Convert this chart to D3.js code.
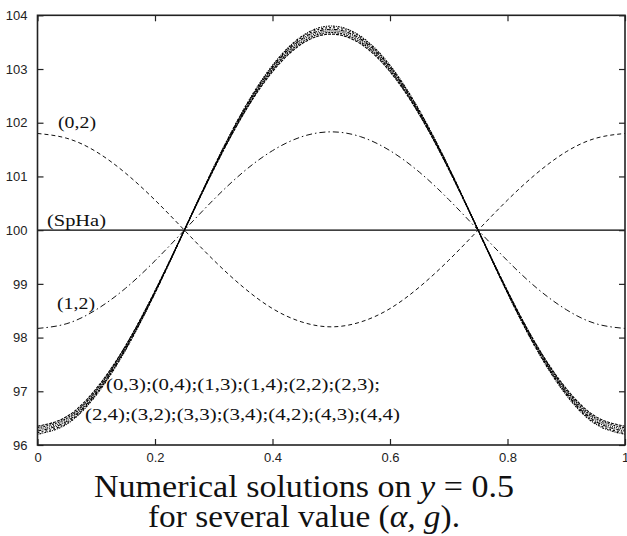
<!DOCTYPE html>
<html lang="en">
<head>
    <meta charset="UTF-8">
    <script src="https://cdn.jsdelivr.net/npm/d3@7"></script>
    <title>Numerical solutions</title>
    <style>
        body { margin: 0; background: #fff; }
        .tick-label { font-family: 'Liberation Sans', Arial, sans-serif; font-size: 13px; fill: #222; }
        .serif { font-family: "Liberation Serif", "DejaVu Serif", serif; fill: #111; }
    </style>
</head>
<body>
    <div id="chart"></div>

    <script>
        // x positions sampled along y = 0.5
        const xs = [0, 0.05, 0.1, 0.15, 0.2, 0.25, 0.3, 0.35, 0.4, 0.45, 0.5,
                    0.55, 0.6, 0.65, 0.7, 0.75, 0.8, 0.85, 0.9, 0.95, 1];

        const spha = [100, 100, 100, 100, 100, 100, 100, 100, 100, 100, 100,
                      100, 100, 100, 100, 100, 100, 100, 100, 100, 100];

        const case02 = [101.80, 101.71, 101.46, 101.06, 100.56, 100.00, 99.44, 98.94, 98.54, 98.29, 98.20,
                        98.29, 98.54, 98.94, 99.44, 100.00, 100.56, 101.06, 101.46, 101.71, 101.80];

        const case12 = [98.17, 98.26, 98.52, 98.92, 99.43, 100.00, 100.57, 101.08, 101.48, 101.74, 101.83,
                        101.74, 101.48, 101.08, 100.57, 100.00, 99.43, 98.92, 98.52, 98.26, 98.17];

        // the bundle (0,3);(0,4);...;(4,4)
        const bundleA = [96.35, 96.53, 97.05, 97.85, 98.87, 100.00, 101.13, 102.15, 102.95, 103.47, 103.65,
                         103.47, 102.95, 102.15, 101.13, 100.00, 98.87, 97.85, 97.05, 96.53, 96.35];
        const bundleB = [96.32, 96.50, 97.02, 97.84, 98.86, 100.00, 101.14, 102.16, 102.98, 103.50, 103.68,
                         103.50, 102.98, 102.16, 101.14, 100.00, 98.86, 97.84, 97.02, 96.50, 96.32];
        const bundleC = [96.29, 96.47, 97.00, 97.82, 98.85, 100.00, 101.15, 102.18, 103.00, 103.53, 103.71,
                         103.53, 103.00, 102.18, 101.15, 100.00, 98.85, 97.82, 97.00, 96.47, 96.29];
        const bundleD = [96.26, 96.44, 96.97, 97.80, 98.84, 100.00, 101.16, 102.20, 103.03, 103.56, 103.74,
                         103.56, 103.03, 102.20, 101.16, 100.00, 98.84, 97.80, 96.97, 96.44, 96.26];
        const bundleE = [96.23, 96.41, 96.95, 97.78, 98.83, 100.00, 101.17, 102.22, 103.05, 103.59, 103.77,
                         103.59, 103.05, 102.22, 101.17, 100.00, 98.83, 97.78, 96.95, 96.41, 96.23];
        const bundleF = [96.20, 96.39, 96.93, 97.77, 98.83, 100.00, 101.17, 102.23, 103.07, 103.61, 103.80,
                         103.61, 103.07, 102.23, 101.17, 100.00, 98.83, 97.77, 96.93, 96.39, 96.20];

        const xTicks = [0, 0.2, 0.4, 0.6, 0.8, 1];
        const yTicks = [96, 97, 98, 99, 100, 101, 102, 103, 104];

        const width = 627, height = 536;
        const plotLeft = 37.5, plotRight = 625, plotTop = 15.3, plotBottom = 445;

        const svg = d3.select("#chart").append("svg")
            .attr("width", width)
            .attr("height", height);

        const x = d3.scaleLinear().domain([0, 1]).range([plotLeft, plotRight]);
        const y = d3.scaleLinear().domain([96, 104]).range([plotBottom, plotTop]);

        const line = d3.line()
            .x((d, i) => x(xs[i]))
            .y(d => y(d))
            .curve(d3.curveNatural);

        svg.append("clipPath").attr("id", "plot-clip")
            .append("rect")
            .attr("x", plotLeft).attr("y", plotTop)
            .attr("width", plotRight - plotLeft).attr("height", plotBottom - plotTop);

        const plot = svg.append("g").attr("clip-path", "url(#plot-clip)");

        // bundle, drawn with several dash patterns so it looks grainy at the ends
        const bundleSeries = [bundleA, bundleB, bundleC, bundleD, bundleE, bundleF];
        const bundleDash = ["3,1", "2,1", "1,1", "4,1,1,1", "2,2", "1,1,2,1"];
        bundleSeries.forEach((s, i) => {
            plot.append("path")
                .datum(s)
                .attr("fill", "none")
                .attr("stroke", "#000")
                .attr("stroke-width", 1.1)
                .attr("stroke-dasharray", bundleDash[i])
                .attr("d", line);
        });

        plot.append("path").datum(spha)
            .attr("fill", "none").attr("stroke", "#000").attr("stroke-width", 1.1)
            .attr("d", line);

        plot.append("path").datum(case02)
            .attr("fill", "none").attr("stroke", "#111").attr("stroke-width", 1)
            .attr("stroke-dasharray", "4,3")
            .attr("d", line);

        plot.append("path").datum(case12)
            .attr("fill", "none").attr("stroke", "#111").attr("stroke-width", 1)
            .attr("stroke-dasharray", "6,3,1.5,3")
            .attr("d", line);

        // axes: ticks point inward and are mirrored on the opposite side
        const tickLen = 6;
        const axisG = svg.append("g");

        axisG.append("g")
            .attr("transform", `translate(0,${plotBottom})`)
            .call(d3.axisBottom(x).tickValues(xTicks).tickSizeInner(-tickLen).tickSizeOuter(0).tickPadding(8)
                .tickFormat(d => d3.format("")(d)));
        axisG.append("g")
            .attr("transform", `translate(0,${plotTop})`)
            .call(d3.axisTop(x).tickValues(xTicks).tickSizeInner(-tickLen).tickSizeOuter(0).tickFormat(""));
        axisG.append("g")
            .attr("transform", `translate(${plotLeft},0)`)
            .call(d3.axisLeft(y).tickValues(yTicks).tickSizeInner(-tickLen).tickSizeOuter(0).tickPadding(10));
        axisG.append("g")
            .attr("transform", `translate(${plotRight},0)`)
            .call(d3.axisRight(y).tickValues(yTicks).tickSizeInner(-tickLen).tickSizeOuter(0).tickFormat(""));

        axisG.selectAll(".domain").remove();
        axisG.selectAll(".tick line").attr("stroke", "#222").attr("stroke-width", 1.2);
        axisG.selectAll(".tick text").attr("class", "tick-label").attr("font-family", null).attr("font-size", null);

        svg.append("rect")
            .attr("x", plotLeft).attr("y", plotTop)
            .attr("width", plotRight - plotLeft).attr("height", plotBottom - plotTop)
            .attr("fill", "none")
            .attr("stroke", "#222")
            .attr("stroke-width", 1.6);

        // curve annotations
        const notes = [
            { text: "(0,2)", x: 58, y: 128, w: 38 },
            { text: "(SpHa)", x: 47, y: 226, w: 59 },
            { text: "(1,2)", x: 57, y: 309, w: 38 },
            { text: "(0,3);(0,4);(1,3);(1,4);(2,2);(2,3);", x: 106, y: 390, w: 274 },
            { text: "(2,4);(3,2);(3,3);(3,4);(4,2);(4,3);(4,4)", x: 85, y: 420, w: 315 }
        ];
        svg.selectAll("text.note")
            .data(notes)
            .enter()
            .append("text")
            .attr("class", "note serif")
            .attr("x", d => d.x)
            .attr("y", d => d.y)
            .attr("font-size", 16)
            .attr("textLength", d => d.w)
            .attr("lengthAdjust", "spacingAndGlyphs")
            .text(d => d.text);

        // caption, two lines stretched to the reference widths
        const caption = svg.append("text")
            .attr("class", "serif")
            .attr("x", 94).attr("y", 497)
            .attr("textLength", 420)
            .attr("lengthAdjust", "spacingAndGlyphs")
            .style("font-size", "31px");
        caption.append("tspan").text("Numerical solutions on ");
        caption.append("tspan").style("font-style", "italic").text("y");
        caption.append("tspan").text(" = 0.5");

        const caption2 = svg.append("text")
            .attr("class", "serif")
            .attr("x", 148).attr("y", 527)
            .attr("textLength", 312)
            .attr("lengthAdjust", "spacingAndGlyphs")
            .style("font-size", "31px");
        caption2.append("tspan").text("for several value (");
        caption2.append("tspan").style("font-style", "italic").text("α, g");
        caption2.append("tspan").text(").");
    </script>
</body>
</html>
